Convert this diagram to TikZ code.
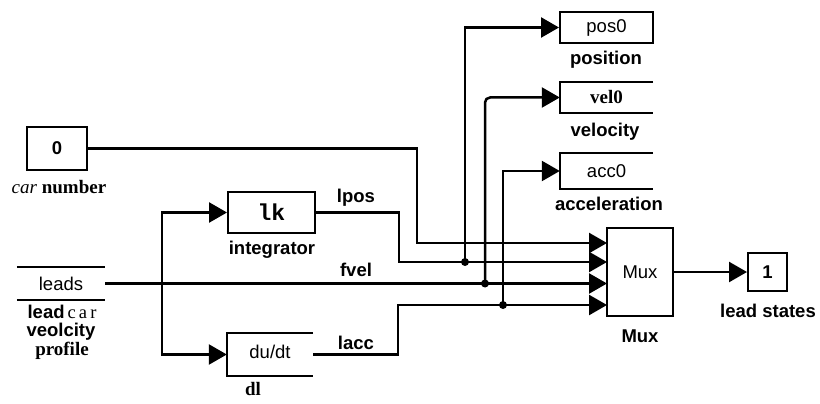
\documentclass[tikz,border=0pt]{standalone}
\usepackage{fontspec}
\setmainfont{Liberation Serif}
\setsansfont{Liberation Sans}
\setmonofont{Liberation Mono}
\usetikzlibrary{arrows.meta}
\tikzset{
  sfb/.style={font=\sffamily\bfseries\fontsize{18.5}{20}\selectfont, inner sep=0pt},
  sfr/.style={font=\sffamily\fontsize{18.5}{20}\selectfont, inner sep=0pt},
  srb/.style={font=\rmfamily\bfseries\fontsize{19}{20}\selectfont, inner sep=0pt},
  blk/.style={draw, line width=2pt, inner sep=0pt},
  openblk/.style={inner sep=0pt},
  edge3/.style={line width=2pt},
  wire/.style={line width=2.5pt},
  arr/.style={wire, -{Triangle[length=18pt,width=20pt]}},
  jdot/.style={circle, fill, inner sep=0pt, minimum size=8pt}
}
\begin{document}
\begin{tikzpicture}[x=1pt,y=-1pt]
\useasboundingbox (0,0) rectangle (820,404);

% blocks
\node[blk, sfb, minimum width=60, minimum height=43] (cn) at (57,148.5) {0};
\node[srb, anchor=center] (cnl) at (59,187) {\textit{\mdseries car} number};

\node[openblk, sfr, minimum width=88, minimum height=33] (leads) at (61,283.5) {leads};
\draw[line width=2pt] (leads.north west) -- (leads.north east);
\draw[line width=2pt] (leads.south west) -- (leads.south east);
\node[sfb] (ll1) at (62,312) {lead\,{\rmfamily\mdseries c\,a\,r}};
\node[sfb] (ll2) at (61,332) {veolcity};
\node[srb] (ll3) at (62,351) {profile};

\node[blk, minimum width=87, minimum height=41, font=\ttfamily\bfseries\fontsize{23}{23}\selectfont] (integ) at (271.5,212.5) {lk};
\node[sfb] (integl) at (272,250) {integrator};

\node[openblk, sfr, minimum width=86, minimum height=43] (deriv) at (270,354.5) {\raisebox{6pt}{du/dt}};
\draw[edge3] (deriv.north east) -- (deriv.north west) -- (deriv.south west) -- (deriv.south east);
\node[srb] (derivl) at (253,389) {dl};

\node[blk, sfr, minimum width=66, minimum height=88] (mux) at (640,272) {Mux};
\node[sfb] (muxl) at (640,336) {Mux};

\node[blk, sfb, minimum width=39, minimum height=38] (out1) at (767.5,272) {1};
\node[sfb] (out1l) at (768,311) {lead states};

\node[blk, sfr, minimum width=93, minimum height=31] (pos0) at (606.5,27.5) {pos0};
\node[sfb] (pos0l) at (606,60) {position};

\node[openblk, srb, minimum width=93, minimum height=30] (vel0) at (606.5,97.5) {vel0};
\draw[edge3] (vel0.north east) -- (vel0.north west) -- (vel0.south west) -- (vel0.south east);
\node[sfb] (vel0l) at (605,132) {velocity};

\node[openblk, sfr, minimum width=93, minimum height=35] (acc0) at (606.5,171) {acc0};
\draw[edge3] (acc0.north east) -- (acc0.north west) -- (acc0.south west) -- (acc0.south east);
\node[sfb] (acc0l) at (609,204) {acceleration};

% signal labels
\node[sfb] (lpos) at (356,198) {lpos};
\node[sfb] (fvel) at (356,270) {fvel};
\node[sfb] (lacc) at (356,343) {lacc};

% coordinates
\coordinate (j1) at (417,243);
\coordinate (j2) at (399,262);
\coordinate (j4) at (398,305);
\coordinate (m1) at (607,243);
\coordinate (m2) at (607,262);
\coordinate (m3) at (607,283.5);
\coordinate (m4) at (607,305);
\coordinate (b) at (162,283.5);
\coordinate (t1) at (465,262);
\coordinate (t2) at (485,283.5);
\coordinate (t3) at (503,305);

% connectors
\draw[arr] (cn.east) -| (j1) -- (m1);
\draw[arr] (integ.east) -| (j2) -- (m2);
\draw[arr] (leads.east) -- (m3);
\draw[arr] (deriv.east) -| (j4) -- (m4);
\draw[arr] (b) |- (integ.west);
\draw[arr] (b) |- (deriv.west);
\draw[arr] (t1) |- (pos0.west);
\draw[arr, rounded corners=5pt] (t2) |- (vel0.west);
\draw[arr] (t3) |- (acc0.west);
\draw[arr] (mux.east) -- (out1.west);
\node[jdot] (d1) at (t1) {};
\node[jdot] (d2) at (t2) {};
\node[jdot] (d3) at (t3) {};
\end{tikzpicture}
\end{document}
